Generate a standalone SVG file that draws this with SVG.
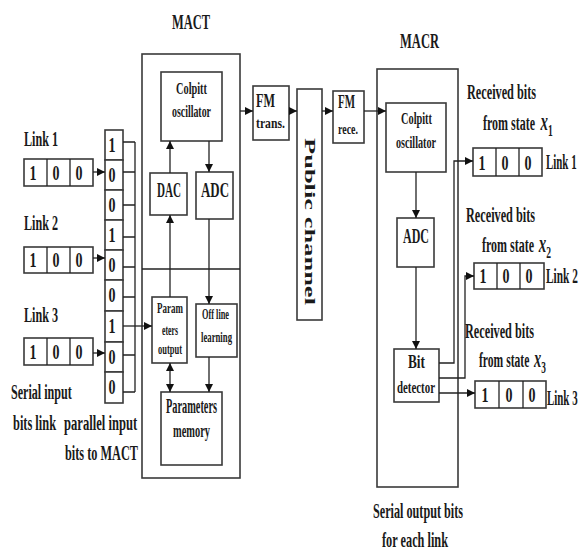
<svg xmlns="http://www.w3.org/2000/svg" width="582" height="552" viewBox="0 0 582 552">
<defs>
<style>
.box{fill:#fff;stroke:#3a3a3a;stroke-width:1.6}
.ln{fill:none;stroke:#222;stroke-width:1.3}
.ar{fill:none;stroke:#222;stroke-width:1.3;marker-end:url(#ah)}
.t{font-family:"Liberation Serif","Times New Roman",serif;font-weight:bold;fill:#1a1a1a}
.d{font-family:"Liberation Serif","Times New Roman",serif;font-weight:bold;fill:#1a1a1a;font-size:20px;text-anchor:middle}
</style>
<marker id="ah" viewBox="0 0 10 10" refX="10" refY="5" markerWidth="9" markerHeight="8" markerUnits="userSpaceOnUse" orient="auto-start-reverse">
<path d="M0,0 L10,5 L0,10 z" fill="#111"/>
</marker>
</defs>
<rect width="582" height="552" fill="#fff"/>

<g id="mact">
<rect class="box" x="142" y="54" width="98" height="424"/>
<line class="ln" x1="142" y1="269" x2="240" y2="269" stroke-width="1.6"/>
<text class="t" x="172" y="29" font-size="20" textLength="38" lengthAdjust="spacingAndGlyphs">MACT</text>
</g>
<g id="colpitt-t">
<rect class="box" x="161" y="72" width="61" height="69"/>
<text class="t" x="176" y="94" font-size="17" textLength="31" lengthAdjust="spacingAndGlyphs">Colpitt</text>
<text class="t" x="172" y="117" font-size="16" textLength="39" lengthAdjust="spacingAndGlyphs">oscillator</text>
</g>
<g id="dac">
<rect class="box" x="150" y="173" width="37" height="42"/>
<text class="t" x="157" y="197" font-size="20" textLength="24" lengthAdjust="spacingAndGlyphs">DAC</text>
</g>
<g id="adc-t">
<rect class="box" x="196" y="172" width="37" height="47"/>
<text class="t" x="201" y="197" font-size="20" textLength="28" lengthAdjust="spacingAndGlyphs">ADC</text>
</g>
<g id="param-out">
<rect class="box" x="152" y="297" width="35" height="66"/>
<text class="t" x="157" y="313" font-size="15" textLength="26" lengthAdjust="spacingAndGlyphs">Param</text>
<text class="t" x="162" y="335" font-size="15" textLength="16" lengthAdjust="spacingAndGlyphs">eters</text>
<text class="t" x="158" y="354" font-size="15" textLength="24" lengthAdjust="spacingAndGlyphs">output</text>
</g>
<g id="offline">
<rect class="box" x="196" y="304" width="41" height="53"/>
<text class="t" x="202" y="319" font-size="15" textLength="27" lengthAdjust="spacingAndGlyphs">Off line</text>
<text class="t" x="201" y="342" font-size="15" textLength="31" lengthAdjust="spacingAndGlyphs">learning</text>
</g>
<g id="param-mem">
<rect class="box" x="161" y="392" width="61" height="73"/>
<text class="t" x="166" y="413" font-size="20" textLength="51" lengthAdjust="spacingAndGlyphs">Parameters</text>
<text class="t" x="173" y="437" font-size="19" textLength="37" lengthAdjust="spacingAndGlyphs">memory</text>
</g>

<g id="fm-trans">
<rect class="box" x="253" y="86" width="36" height="54"/>
<text class="t" x="256" y="107" font-size="19" textLength="19" lengthAdjust="spacingAndGlyphs">FM</text>
<text class="t" x="256" y="128" font-size="15" textLength="29" lengthAdjust="spacingAndGlyphs">trans.</text>
</g>
<g id="public-channel">
<rect class="box" x="297" y="89" width="25" height="231"/>
<text class="t" transform="translate(305,138) rotate(90)" font-size="15" textLength="167" lengthAdjust="spacingAndGlyphs">Public channel</text>
</g>
<g id="fm-rece">
<rect class="box" x="333" y="91" width="31" height="52"/>
<text class="t" x="338" y="108" font-size="19" textLength="17" lengthAdjust="spacingAndGlyphs">FM</text>
<text class="t" x="338" y="134" font-size="15" textLength="20" lengthAdjust="spacingAndGlyphs">rece.</text>
</g>

<g id="macr">
<rect class="box" x="377" y="69" width="81" height="418"/>
<text class="t" x="400" y="48" font-size="20" textLength="39" lengthAdjust="spacingAndGlyphs">MACR</text>
</g>
<g id="colpitt-r">
<rect class="box" x="386" y="103" width="60" height="69"/>
<text class="t" x="401" y="124" font-size="17" textLength="31" lengthAdjust="spacingAndGlyphs">Colpitt</text>
<text class="t" x="396" y="148" font-size="16" textLength="40" lengthAdjust="spacingAndGlyphs">oscillator</text>
</g>
<g id="adc-r">
<rect class="box" x="397" y="218" width="37" height="49"/>
<text class="t" x="403" y="243" font-size="20" textLength="26" lengthAdjust="spacingAndGlyphs">ADC</text>
</g>
<g id="bit-det">
<rect class="box" x="394" y="349" width="45" height="53"/>
<text class="t" x="408" y="368" font-size="18" textLength="17" lengthAdjust="spacingAndGlyphs">Bit</text>
<text class="t" x="397" y="393" font-size="16" textLength="38" lengthAdjust="spacingAndGlyphs">detector</text>
</g>

<g id="in-link1">
<text class="t" x="24" y="146" font-size="21" textLength="34" lengthAdjust="spacingAndGlyphs">Link 1</text>
<rect class="box" x="24" y="159" width="69" height="27"/>
<line class="ln" x1="47" y1="159" x2="47" y2="186"/><line class="ln" x1="70" y1="159" x2="70" y2="186"/>
<text class="d" x="33" y="180" textLength="7" lengthAdjust="spacingAndGlyphs">1</text>
<text class="d" x="56" y="180" textLength="7" lengthAdjust="spacingAndGlyphs">0</text>
<text class="d" x="79" y="180" textLength="7" lengthAdjust="spacingAndGlyphs">0</text>
</g>
<g id="in-link2">
<text class="t" x="24" y="230" font-size="21" textLength="34" lengthAdjust="spacingAndGlyphs">Link 2</text>
<rect class="box" x="24" y="247" width="69" height="26"/>
<line class="ln" x1="47" y1="247" x2="47" y2="273"/><line class="ln" x1="70" y1="247" x2="70" y2="273"/>
<text class="d" x="33" y="267" textLength="7" lengthAdjust="spacingAndGlyphs">1</text>
<text class="d" x="56" y="267" textLength="7" lengthAdjust="spacingAndGlyphs">0</text>
<text class="d" x="79" y="267" textLength="7" lengthAdjust="spacingAndGlyphs">0</text>
</g>
<g id="in-link3">
<text class="t" x="24" y="322" font-size="21" textLength="34" lengthAdjust="spacingAndGlyphs">Link 3</text>
<rect class="box" x="24" y="338" width="69" height="27"/>
<line class="ln" x1="47" y1="338" x2="47" y2="365"/><line class="ln" x1="70" y1="338" x2="70" y2="365"/>
<text class="d" x="33" y="359" textLength="7" lengthAdjust="spacingAndGlyphs">1</text>
<text class="d" x="56" y="359" textLength="7" lengthAdjust="spacingAndGlyphs">0</text>
<text class="d" x="79" y="359" textLength="7" lengthAdjust="spacingAndGlyphs">0</text>
</g>

<g id="parallel-col">
<rect class="box" x="105" y="130" width="18" height="30"/>
<rect class="box" x="105" y="160" width="18" height="30"/>
<rect class="box" x="105" y="190" width="18" height="30"/>
<rect class="box" x="105" y="220" width="18" height="30"/>
<rect class="box" x="105" y="250" width="18" height="30"/>
<rect class="box" x="105" y="280" width="18" height="31"/>
<rect class="box" x="105" y="311" width="18" height="31"/>
<rect class="box" x="105" y="342" width="18" height="30"/>
<rect class="box" x="105" y="372" width="18" height="31"/>
<text class="d" x="112" y="152" font-size="21" textLength="7" lengthAdjust="spacingAndGlyphs">1</text>
<text class="d" x="112" y="182" font-size="21" textLength="7" lengthAdjust="spacingAndGlyphs">0</text>
<text class="d" x="112" y="212" font-size="21" textLength="7" lengthAdjust="spacingAndGlyphs">0</text>
<text class="d" x="112" y="242" font-size="21" textLength="7" lengthAdjust="spacingAndGlyphs">1</text>
<text class="d" x="112" y="272" font-size="21" textLength="7" lengthAdjust="spacingAndGlyphs">0</text>
<text class="d" x="112" y="302" font-size="21" textLength="7" lengthAdjust="spacingAndGlyphs">0</text>
<text class="d" x="112" y="333" font-size="21" textLength="7" lengthAdjust="spacingAndGlyphs">1</text>
<text class="d" x="112" y="364" font-size="21" textLength="7" lengthAdjust="spacingAndGlyphs">0</text>
<text class="d" x="112" y="394" font-size="21" textLength="7" lengthAdjust="spacingAndGlyphs">0</text>
</g>

<g id="out-link1">
<rect class="box" x="473" y="148" width="69" height="28"/>
<line class="ln" x1="496" y1="148" x2="496" y2="176"/><line class="ln" x1="519" y1="148" x2="519" y2="176"/>
<text class="d" x="482" y="170" textLength="7" lengthAdjust="spacingAndGlyphs">1</text>
<text class="d" x="505" y="170" textLength="7" lengthAdjust="spacingAndGlyphs">0</text>
<text class="d" x="528" y="170" textLength="7" lengthAdjust="spacingAndGlyphs">0</text>
<text class="t" transform="translate(546,169) scale(0.52,1)" font-size="21">Link 1</text>
</g>
<g id="out-link2">
<rect class="box" x="474" y="263" width="70" height="26"/>
<line class="ln" x1="497" y1="263" x2="497" y2="289"/><line class="ln" x1="520" y1="263" x2="520" y2="289"/>
<text class="d" x="483" y="283" textLength="7" lengthAdjust="spacingAndGlyphs">1</text>
<text class="d" x="506" y="283" textLength="7" lengthAdjust="spacingAndGlyphs">0</text>
<text class="d" x="529" y="283" textLength="7" lengthAdjust="spacingAndGlyphs">0</text>
<text class="t" transform="translate(546,283) scale(0.54,1)" font-size="21">Link 2</text>
</g>
<g id="out-link3">
<rect class="box" x="475" y="381" width="71" height="27"/>
<line class="ln" x1="499" y1="381" x2="499" y2="408"/><line class="ln" x1="523" y1="381" x2="523" y2="408"/>
<text class="d" x="485" y="402" textLength="7" lengthAdjust="spacingAndGlyphs">1</text>
<text class="d" x="509" y="402" textLength="7" lengthAdjust="spacingAndGlyphs">0</text>
<text class="d" x="532" y="402" textLength="7" lengthAdjust="spacingAndGlyphs">0</text>
<text class="t" transform="translate(547,405) scale(0.52,1)" font-size="21">Link 3</text>
</g>

<g id="labels">
<text class="t" transform="translate(11,399) scale(0.576,1)" font-size="21">Serial input</text>
<text class="t" transform="translate(13,430) scale(0.59,1)" font-size="21">bits link</text>
<text class="t" transform="translate(64,430) scale(0.6,1)" font-size="21">parallel input</text>
<text class="t" transform="translate(65,460) scale(0.585,1)" font-size="21">bits to MACT</text>
<text class="t" x="467" y="99" font-size="20" textLength="69" lengthAdjust="spacingAndGlyphs">Received bits</text>
<text class="t" transform="translate(483,130) scale(0.6,1)" font-size="20">from state <tspan font-style="italic" font-size="25" dx="4">x</tspan><tspan font-size="16" dy="6">1</tspan></text>
<text class="t" x="466" y="222" font-size="20" textLength="69" lengthAdjust="spacingAndGlyphs">Received bits</text>
<text class="t" transform="translate(482,252) scale(0.6,1)" font-size="20">from state <tspan font-style="italic" font-size="25" dx="3">x</tspan><tspan font-size="16" dy="6">2</tspan></text>
<text class="t" x="465" y="338" font-size="20" textLength="69" lengthAdjust="spacingAndGlyphs">Received bits</text>
<text class="t" transform="translate(479,367) scale(0.58,1)" font-size="20">from state <tspan font-style="italic" font-size="25" dx="3">x</tspan><tspan font-size="16" dy="6">3</tspan></text>
<text class="t" x="373" y="518" font-size="21" textLength="90" lengthAdjust="spacingAndGlyphs">Serial output bits</text>
<text class="t" x="382" y="547" font-size="21" textLength="66" lengthAdjust="spacingAndGlyphs">for each link</text>
</g>

<g id="connectors">
<path class="ar" d="M93,172 H105"/>
<path class="ar" d="M93,258 H105"/>
<path class="ar" d="M93,353 H105"/>
<path class="ln" d="M123,142 H135 M123,172 H135 M123,205 H135 M123,237 H135 M123,267 H135 M123,297 H135 M123,355 H135 M123,392 H135 M135,142 V392"/>
<path class="ar" d="M123,326 H152"/>
<path class="ar" d="M170,297 V215"/>
<path class="ar" d="M170,173 V141"/>
<path class="ar" d="M209,141 V172"/>
<path class="ar" d="M209,219 V304"/>
<path class="ar" d="M209,357 V392"/>
<path class="ar" d="M170,363 V392" marker-start="url(#ah)"/>
<path class="ar" d="M240,111 H253"/>
<path class="ar" d="M289,111 H297"/>
<path class="ar" d="M322,111 H333"/>
<path class="ar" d="M364,111 H386"/>
<path class="ar" d="M416,172 V218"/>
<path class="ar" d="M416,267 V349"/>
<path class="ar" d="M439,363 H454 V161 H473"/>
<path class="ar" d="M439,378 H465 V276 H474"/>
<path class="ar" d="M439,393 H475"/>
</g>
</svg>
